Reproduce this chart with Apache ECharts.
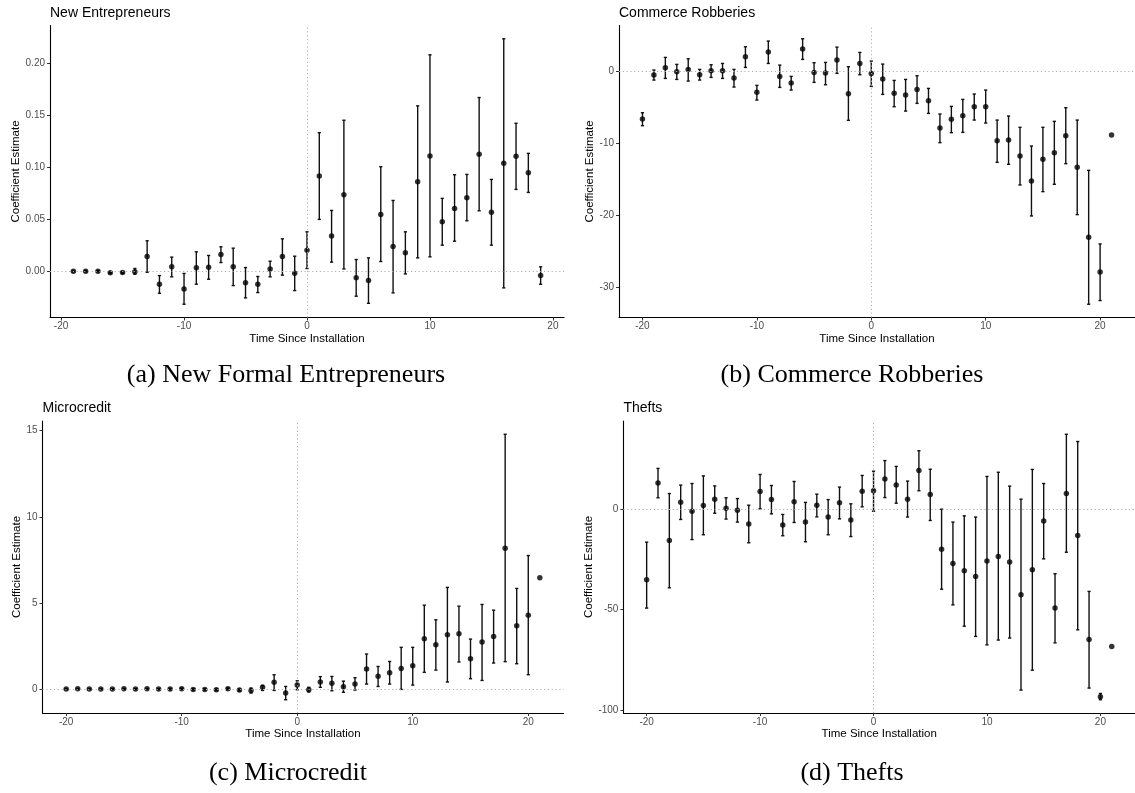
<!DOCTYPE html>
<html>
<head>
<meta charset="utf-8">
<script src="https://cdn.jsdelivr.net/npm/echarts@6/dist/echarts.min.js"></script>
<style>
  html, body { margin: 0; padding: 0; background: #fff; }
  #chart { width: 1135px; height: 793px; }
</style>
</head>
<body>
<div id="chart"></div>
<script>
// (a) New formal entrepreneurs: event-study coefficients with 95% intervals
const entX = [-19,-18,-17,-16,-15,-14,-13,-12,-11,-10,-9,-8,-7,-6,-5,-4,-3,-2,-1,0,1,2,3,4,5,6,7,8,9,10,11,12,13,14,15,16,17,18,19];
const entEst = [0.0000,0.0000,0.0000,-0.0016,-0.0013,-0.0006,0.0141,-0.0125,0.0042,-0.0170,0.0032,0.0038,0.0160,0.0042,-0.0112,-0.0125,0.0022,0.0141,-0.0019,
  0.0202,0.0913,0.0337,0.0734,-0.0064,-0.0090,0.0545,0.0237,0.0176,0.0859,0.1106,0.0474,0.0603,0.0705,0.1122,0.0567,0.1035,0.1103,0.0946,-0.0042];
const entLo = [-0.0006,-0.0006,-0.0005,-0.0022,-0.0020,-0.0029,-0.0010,-0.0212,-0.0054,-0.0317,-0.0125,-0.0077,0.0083,-0.0138,-0.0256,-0.0205,-0.0054,-0.0038,-0.0186,
  0.0026,0.0497,0.0087,0.0022,-0.0240,-0.0308,0.0093,-0.0208,-0.0026,0.0128,0.0138,0.0250,0.0288,0.0484,0.0580,0.0250,-0.0160,0.0785,0.0756,-0.0125];
const entHi = [0.0006,0.0006,0.0005,-0.0010,-0.0006,0.0026,0.0292,-0.0042,0.0135,-0.0022,0.0186,0.0151,0.0234,0.0221,0.0035,-0.0051,0.0096,0.0311,0.0144,
  0.0378,0.1330,0.0583,0.1449,0.0112,0.0128,0.1003,0.0679,0.0378,0.1587,0.2077,0.0699,0.0926,0.0929,0.1667,0.0881,0.2231,0.1420,0.1131,0.0042];

// (b) Commerce robberies
const robX = [-20,-19,-18,-17,-16,-15,-14,-13,-12,-11,-10,-9,-8,-7,-6,-5,-4,-3,-2,-1,0,1,2,3,4,5,6,7,8,9,10,11,12,13,14,15,16,17,18,19,20,21];
const robEst = [-6.67,-0.56,0.46,-0.09,0.23,-0.51,0.05,0.05,-0.97,1.99,-2.96,2.64,-0.74,-1.67,3.06,-0.19,-0.28,1.53,-3.15,1.06,
  -0.32,-1.11,-3.10,-3.33,-2.55,-4.12,-7.92,-6.71,-6.20,-4.95,-4.95,-9.68,-9.58,-11.81,-15.28,-12.27,-11.34,-8.98,-13.38,-23.10,-27.92,-8.89];
const robLo = [-7.59,-1.25,-1.02,-1.16,-1.39,-1.25,-0.88,-1.02,-2.22,0.51,-4.03,1.06,-2.27,-2.64,1.62,-1.57,-1.90,-0.32,-6.85,-0.51,
  -2.13,-3.24,-4.95,-5.56,-4.49,-5.88,-9.95,-8.56,-8.52,-6.81,-7.22,-12.69,-12.96,-15.83,-20.14,-16.76,-15.74,-12.87,-19.95,-32.41,-31.90,null];
const robHi = [-5.79,0.14,1.90,0.93,1.71,0.23,0.88,1.06,0.23,3.38,-1.99,4.17,0.83,-0.74,4.49,1.16,1.20,3.33,0.60,2.59,
  1.39,0.97,-1.30,-1.16,-0.65,-2.41,-5.97,-4.91,-3.94,-3.19,-2.64,-6.81,-6.25,-7.82,-10.42,-7.82,-6.99,-5.09,-6.81,-13.80,-24.03,null];

// (c) Microcredit
const micX = robX.slice();
const micEst = [0.00,0.01,0.00,0.00,0.00,0.01,0.00,0.01,0.00,0.00,0.02,-0.02,-0.02,-0.04,0.02,-0.06,-0.08,0.10,0.39,-0.23,
  0.23,-0.04,0.41,0.33,0.14,0.29,1.16,0.75,0.95,1.20,1.35,2.92,2.57,3.15,3.21,1.76,2.73,3.05,8.18,3.67,4.29,6.46];
const micLo = [-0.02,-0.01,-0.02,-0.02,-0.02,-0.01,-0.02,-0.01,-0.02,-0.03,-0.01,-0.05,-0.05,-0.08,-0.02,-0.11,-0.23,-0.08,-0.08,-0.62,
  -0.04,-0.17,0.10,-0.10,-0.19,-0.06,0.29,0.15,0.29,-0.02,0.23,0.97,1.10,0.41,1.57,0.60,0.50,1.51,1.59,1.47,0.83,null];
const micHi = [0.02,0.03,0.02,0.02,0.02,0.03,0.02,0.03,0.02,0.03,0.05,0.01,0.01,0.00,0.06,-0.01,0.06,0.21,0.83,0.15,
  0.48,0.10,0.72,0.73,0.46,0.66,2.03,1.31,1.60,2.42,2.42,4.87,4.02,5.90,4.81,2.90,4.91,4.58,14.79,5.84,7.75,null];

// (d) Thefts
const thfX = robX.slice();
const thfEst = [-35.3,12.8,-15.8,3.3,-1.2,1.7,4.8,0.3,-0.7,-7.5,8.6,4.6,-8.0,3.5,-6.5,1.8,-4.1,3.0,-5.5,8.8,
  9.0,14.9,11.9,4.8,19.1,7.1,-20.1,-27.2,-30.8,-33.7,-26.0,-23.7,-26.5,-42.8,-30.3,-6.1,-49.4,7.6,-13.3,-65.0,-93.5,-68.5];
const thfLo = [-49.4,5.5,-39.3,-5.3,-15.3,-12.9,-2.2,-5.1,-6.6,-16.9,0.0,-2.5,-13.4,-6.8,-16.4,-4.0,-12.9,-5.0,-13.8,1.0,
  -1.2,5.6,2.8,-4.1,9.0,-5.8,-40.0,-47.8,-58.4,-63.5,-67.7,-65.3,-64.3,-90.2,-80.3,-24.9,-66.7,-21.6,-60.2,-89.2,-95.0,null];
const thfHi = [-16.6,20.1,7.6,11.8,12.6,16.4,11.4,5.5,5.1,1.8,17.1,11.6,-2.8,13.6,3.2,7.3,4.6,10.8,2.5,16.6,
  18.7,24.0,21.1,13.8,28.9,19.7,-0.2,-6.6,-3.5,-4.1,16.1,18.2,11.3,4.8,19.6,12.6,-32.3,37.1,33.5,-41.1,-91.9,null];

// Tick labels
const xTicks = [-20, -10, 0, 10, 20];
const entYTicks = [0, 0.05, 0.10, 0.15, 0.20];
const robYTicks = [-30, -20, -10, 0];
const micYTicks = [0, 5, 10, 15];
const thfYTicks = [-100, -50, 0];

// Panel titles and subfigure captions
const panelTitles = ['New Entrepreneurs', 'Commerce Robberies', 'Microcredit', 'Thefts'];
const captions = ['(a) New Formal Entrepreneurs', '(b) Commerce Robberies', '(c) Microcredit', '(d) Thefts'];
const xName = 'Time Since Installation';
const yName = 'Coefficient Estimate';

const SANS = 'Liberation Sans, Arial, sans-serif';
const SERIF = 'Liberation Serif, Times New Roman, serif';

// ggplot-style 5% padding around the data range
function padded(vals) {
  const v = vals.filter(d => d != null);
  const lo = Math.min(...v), hi = Math.max(...v);
  const r = hi - lo;
  return [lo - 0.05 * r, hi + 0.05 * r];
}

const panels = [
  { x: entX, est: entEst, lo: entLo, hi: entHi, yTicks: entYTicks, fmt: v => v.toFixed(2),
    grid: { left: 50, top: 25.5, width: 514, height: 292 }, yGap: 23 },
  { x: robX, est: robEst, lo: robLo, hi: robHi, yTicks: robYTicks, fmt: v => String(v),
    grid: { left: 619, top: 25.5, width: 517.5, height: 292 }, yGap: 23 },
  { x: micX, est: micEst, lo: micLo, hi: micHi, yTicks: micYTicks, fmt: v => String(v),
    grid: { left: 42.5, top: 421, width: 521, height: 292 }, yGap: 15 },
  { x: thfX, est: thfEst, lo: thfLo, hi: thfHi, yTicks: thfYTicks, fmt: v => String(v),
    grid: { left: 623.4, top: 421, width: 513.7, height: 292 }, yGap: 19 }
];

const grids = [], xAxes = [], yAxes = [], series = [], titles = [], graphics = [];

function errorBarItem(params, api) {
  const x = api.value(0), lo = api.value(1), hi = api.value(2);
  const p1 = api.coord([x, lo]);
  const p2 = api.coord([x, hi]);
  const cap = 1.6;
  const style = { stroke: '#111', lineWidth: 1.4 };
  return {
    type: 'group',
    children: [
      { type: 'line', shape: { x1: p1[0], y1: p1[1], x2: p2[0], y2: p2[1] }, style },
      { type: 'line', shape: { x1: p1[0] - cap, y1: p1[1], x2: p1[0] + cap, y2: p1[1] }, style },
      { type: 'line', shape: { x1: p2[0] - cap, y1: p2[1], x2: p2[0] + cap, y2: p2[1] }, style }
    ]
  };
}

panels.forEach((p, i) => {
  grids.push(Object.assign({ containLabel: false }, p.grid));
  const xr = padded(p.x);
  const yr = padded(p.est.concat(p.lo, p.hi));

  xAxes.push({
    gridIndex: i, type: 'value', min: xr[0], max: xr[1],
    axisLine: { onZero: false, lineStyle: { color: '#000', width: 1.1 } },
    axisTick: { show: true, length: 3, customValues: xTicks, lineStyle: { color: '#333', width: 1 } },
    axisLabel: { customValues: xTicks, color: '#4d4d4d', fontSize: 10, fontFamily: SANS, margin: 4 },
    splitLine: { show: false },
    name: xName, nameLocation: 'middle', nameGap: 15,
    nameTextStyle: { color: '#000', fontSize: 11.5, fontFamily: SANS }
  });

  yAxes.push({
    gridIndex: i, type: 'value', min: yr[0], max: yr[1],
    axisLine: { onZero: false, lineStyle: { color: '#000', width: 1.1 } },
    axisTick: { show: true, length: 3, customValues: p.yTicks, lineStyle: { color: '#333', width: 1 } },
    axisLabel: { customValues: p.yTicks, formatter: p.fmt, color: '#4d4d4d', fontSize: 10, fontFamily: SANS, margin: 5 },
    splitLine: { show: false },
    name: yName, nameLocation: 'middle', nameGap: p.yGap, nameRotate: 90,
    nameTextStyle: { color: '#000', fontSize: 11.5, fontFamily: SANS }
  });

  // dotted reference lines at zero
  series.push({
    type: 'scatter', xAxisIndex: i, yAxisIndex: i, data: [], z: 1, silent: true,
    markLine: {
      silent: true, symbol: ['none', 'none'], animation: false,
      label: { show: false },
      lineStyle: { color: '#b0b0b0', width: 1, type: [1.2, 2.6] },
      data: [{ yAxis: 0 }, { xAxis: 0 }]
    }
  });

  // confidence intervals
  series.push({
    type: 'custom', xAxisIndex: i, yAxisIndex: i, z: 2, silent: true,
    renderItem: errorBarItem,
    encode: { x: 0, y: [1, 2] },
    data: p.x.map((v, k) => [v, p.lo[k], p.hi[k]]).filter(d => d[1] != null && d[2] != null)
  });

  // point estimates
  series.push({
    type: 'scatter', xAxisIndex: i, yAxisIndex: i, z: 3, silent: true,
    symbol: 'circle', symbolSize: 5.5,
    itemStyle: { color: '#000' },
    data: p.x.map((v, k) => [v, p.est[k]])
  });

  titles.push({
    text: panelTitles[i], left: p.grid.left, top: p.grid.top - 19.5, padding: 0,
    textStyle: { color: '#000', fontSize: 14, fontWeight: 'normal', fontFamily: SANS }
  });
});

const capPos = [[286, 375], [852, 375], [288, 773], [852, 773]];
captions.forEach((c, i) => {
  graphics.push({
    type: 'text', x: capPos[i][0], y: capPos[i][1], silent: true,
    style: { text: c, fill: '#000', font: '26px ' + SERIF, align: 'center', verticalAlign: 'middle' }
  });
});

const chart = echarts.init(document.getElementById('chart'), null, { renderer: 'canvas' });
chart.setOption({
  animation: false,
  backgroundColor: '#fff',
  title: titles,
  grid: grids,
  xAxis: xAxes,
  yAxis: yAxes,
  series: series,
  graphic: graphics
});
</script>
</body>
</html>
